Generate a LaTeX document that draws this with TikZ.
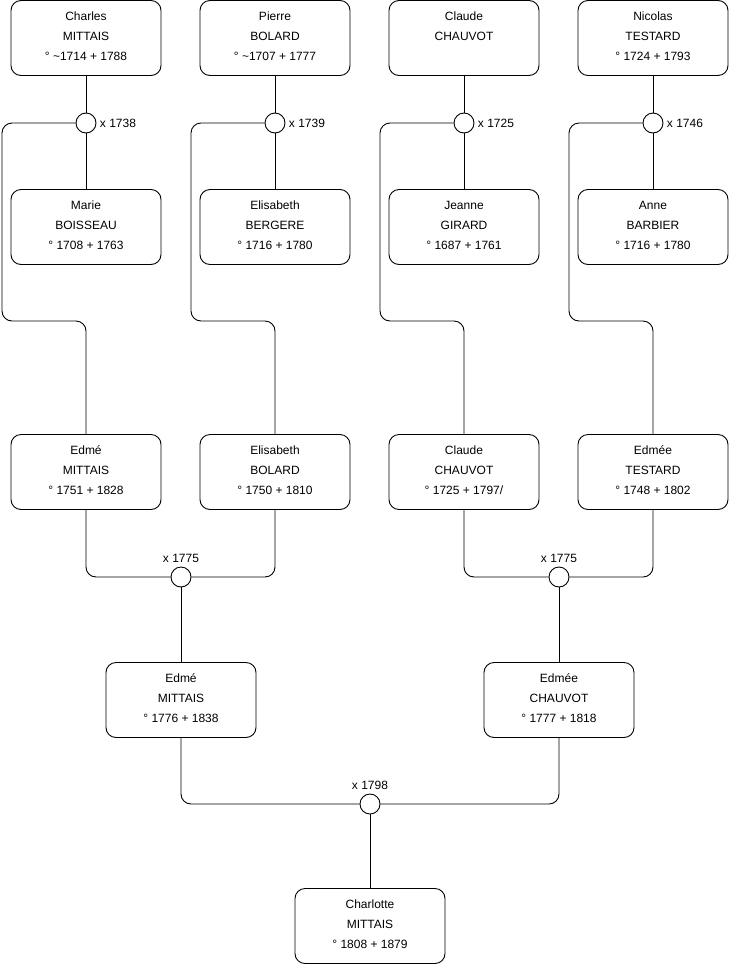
\documentclass[tikz,border=0pt]{standalone}
\usepackage{fontspec}
\setmainfont{Liberation Sans}
\usepackage{tikz}
\usetikzlibrary{positioning}

\tikzset{
	person/.style={shape=rectangle, draw, line width=0.9pt, rounded corners=10pt, minimum width=150pt, minimum height=75pt, align=center, text depth=4pt, font=\fontsize{12}{20}\selectfont},
	wed/.style={shape=circle, draw, line width=0.9pt, fill=white, minimum size=20pt, inner sep=0pt},
	link/.style={line width=0.9pt, rounded corners=10pt},
	every label/.style={font=\fontsize{12}{14}\selectfont, label distance=0pt}
}

\begin{document}
\begin{tikzpicture}[x=1pt, y=-1pt]
		\useasboundingbox (0,0) rectangle (740,975);
		% Persons, marriages and links:
		\node[person](P1) at (86, 38){Charles\\MITTAIS\\° \textasciitilde1714 + 1788};
		\node[person](P2) at (275, 38){Pierre\\BOLARD\\° \textasciitilde1707 + 1777};
		\node[person](P3) at (464, 38){Claude\\CHAUVOT\\\phantom{° 1724 + 1793}};
		\node[person](P4) at (653, 38){Nicolas\\TESTARD\\° 1724 + 1793};
		\node[wed, label=right:{x 1738}](M1) at (86, 123){};
		\node[wed, label=right:{x 1739}](M2) at (275, 123){};
		\node[wed, label=right:{x 1725}](M3) at (464, 123){};
		\node[wed, label=right:{x 1746}](M4) at (653, 123){};
		\node[person](P5) at (86, 227){Marie\\BOISSEAU\\° 1708 + 1763};
		\node[person](P6) at (275, 227){Elisabeth\\BERGERE\\° 1716 + 1780};
		\node[person](P7) at (464, 227){Jeanne\\GIRARD\\° 1687 + 1761};
		\node[person](P8) at (653, 227){Anne\\BARBIER\\° 1716 + 1780};
		\coordinate (B1) at (2, 321);
		\coordinate (B2) at (191, 321);
		\coordinate (B3) at (380, 321);
		\coordinate (B4) at (569, 321);
		\node[person](P9) at (86, 472){Edmé\\MITTAIS\\° 1751 + 1828};
		\node[person](P10) at (275, 472){Elisabeth\\BOLARD\\° 1750 + 1810};
		\node[person](P11) at (464, 472){Claude\\CHAUVOT\\° 1725 + 1797/};
		\node[person](P12) at (653, 472){Edmée\\TESTARD\\° 1748 + 1802};
		\node[wed, label=above:{x 1775}](M5) at (181, 577){};
		\node[wed, label=above:{x 1775}](M6) at (559, 577){};
		\node[person](P13) at (181, 700){Edmé\\MITTAIS\\° 1776 + 1838};
		\node[person](P14) at (559, 700){Edmée\\CHAUVOT\\° 1777 + 1818};
		\node[wed, label=above:{x 1798}](M7) at (370, 804){};
		\node[person](P15) at (370, 926){Charlotte\\MITTAIS\\° 1808 + 1879};
		\draw[link] (P1.south) -- (M1.north);
		\draw[link] (M1.south) -- (P5.north);
		\draw[link] (M1.west) -| (B1) -| (P9.north);
		\draw[link] (P2.south) -- (M2.north);
		\draw[link] (M2.south) -- (P6.north);
		\draw[link] (M2.west) -| (B2) -| (P10.north);
		\draw[link] (P3.south) -- (M3.north);
		\draw[link] (M3.south) -- (P7.north);
		\draw[link] (M3.west) -| (B3) -| (P11.north);
		\draw[link] (P4.south) -- (M4.north);
		\draw[link] (M4.south) -- (P8.north);
		\draw[link] (M4.west) -| (B4) -| (P12.north);
		\draw[link] (P9.south) |- (M5.west);
		\draw[link] (P10.south) |- (M5.east);
		\draw[link] (M5.south) -- (P13.north);
		\draw[link] (P11.south) |- (M6.west);
		\draw[link] (P12.south) |- (M6.east);
		\draw[link] (M6.south) -- (P14.north);
		\draw[link] (P13.south) |- (M7.west);
		\draw[link] (P14.south) |- (M7.east);
		\draw[link] (M7.south) -- (P15.north);
	\end{tikzpicture}
\end{document}
